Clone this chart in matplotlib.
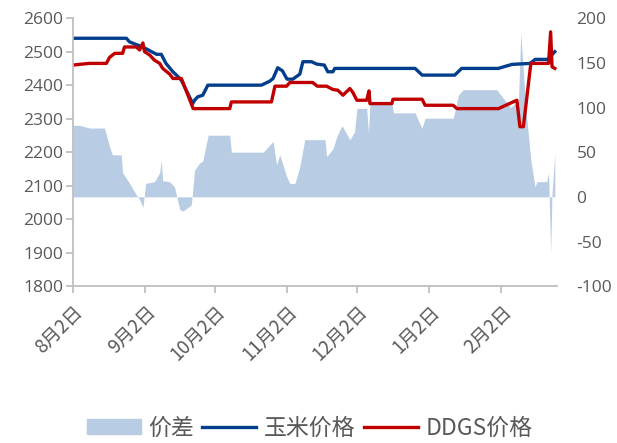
import numpy as np
import pandas as pd
import matplotlib
matplotlib.use('Agg')
import matplotlib.pyplot as plt
import matplotlib.dates as mdates
from matplotlib.ticker import FuncFormatter
from matplotlib.patches import Patch
from matplotlib.lines import Line2D

plt.rcParams['font.family'] = ['Noto Sans CJK SC', 'DejaVu Sans']
plt.rcParams['axes.unicode_minus'] = False

start = pd.Timestamp('2020-08-02')

# corn price (left axis): day offset from 8/2, value
corn_days = [0, 23, 24.4, 30, 36, 38, 40, 43, 44.5, 46.6, 51.5, 52.3, 53.6, 55.8, 58,
             81, 84.6, 86, 88, 90, 92, 94.5, 97.5, 98.8, 102.5, 104.7, 108, 109.5,
             111.7, 112.5, 147, 150, 164, 167, 182.7, 188.6, 196.4, 198.6, 204, 207]
corn_vals = [2540, 2540, 2529, 2514, 2492, 2492, 2465, 2440, 2430, 2415, 2345, 2355, 2365, 2370, 2400,
             2400, 2412, 2420, 2452, 2443, 2418, 2418, 2433, 2470, 2470, 2463, 2460, 2440,
             2440, 2450, 2450, 2430, 2430, 2450, 2450, 2462, 2465, 2477, 2477, 2500]

# DDGS price (left axis)
ddgs_days = [0, 7, 14.4, 15.8, 18, 21.4, 22.2, 27.3, 28.7, 30.1, 30.8, 33, 35, 37.3, 38.6,
             41.6, 43, 46.6, 47.2, 51.7, 67.4, 68.1, 85.3, 86.8, 91.8, 93.2, 103, 105,
             109, 111.7, 113.8, 116, 119, 120.3, 122, 126.2, 127.2, 127.6, 137, 137.5,
             150, 151.3, 163.3, 165, 182.8, 190.7, 192, 193.5, 196.7, 204.3, 205.2, 205.8, 207]
ddgs_vals = [2460, 2465, 2465, 2483, 2495, 2495, 2514, 2514, 2505, 2526, 2500, 2490, 2475, 2465, 2450,
             2433, 2420, 2420, 2410, 2330, 2330, 2350, 2350, 2397, 2397, 2408, 2408, 2397,
             2397, 2387, 2385, 2370, 2390, 2378, 2355, 2355, 2383, 2345, 2345, 2358,
             2358, 2340, 2340, 2330, 2330, 2355, 2276, 2276, 2465, 2465, 2559, 2455, 2450]

# spread (right axis)
spread_days = [0, 3, 7.2, 13.6, 15.8, 17, 20.8, 21.4, 24.4, 27.8, 28.7, 30.1, 31.3, 35.1,
               37.3, 38, 38.6, 41.6, 43.7, 45.9, 47.3, 50.9, 52.3, 54.5, 55.8, 58.1, 67.4,
               68.1, 81.7, 83.9, 86, 87.5, 88.9, 91.8, 93.2, 95.4, 97.5, 99.6, 108.3, 109,
               111.8, 113.3, 115.4, 116, 119, 121, 122, 126.2, 127, 127.6, 137, 137.7, 147,
               148.3, 149.9, 151.3, 163.4, 165.6, 167.7, 182, 188, 191.4, 192.4, 194.5,
               196.7, 198.5, 199.3, 203.5, 204.3, 205.2, 205.8, 206.5, 207]
spread_vals = [80, 80, 77, 77, 56, 47, 47, 27, 15, 0, -3, -12, 15, 17,
               27, 41, 18, 17, 11, -14, -16, -9, 30, 38, 40, 69, 69,
               50, 50, 56, 62, 36, 47, 23, 15, 15, 34, 64, 64, 45,
               54, 67, 79, 78, 64, 73, 99, 99, 71, 105, 105, 94, 94,
               86, 77, 88, 88, 114, 120, 120, 100, 108, 183, 100,
               41, 11, 17, 17, 27, -63, 4, 30, 49]

tick_dates = ['2020-08-02', '2020-09-02', '2020-10-02', '2020-11-02',
              '2020-12-02', '2021-01-02', '2021-02-02']

corn_x = start + pd.to_timedelta(corn_days, unit='D')
ddgs_x = start + pd.to_timedelta(ddgs_days, unit='D')
spread_x = start + pd.to_timedelta(spread_days, unit='D')

c_area = '#b8cce4'
c_corn = '#033e8c'
c_ddgs = '#c00000'
c_text = '#595959'
c_axis = '#bfbfbf'

fig = plt.figure(figsize=(6.17, 4.43), dpi=100)
ax1 = fig.add_axes([0.118, 0.354, 0.785, 0.605])
ax2 = ax1.twinx()

ax2.fill_between(spread_x, spread_vals, 0, color=c_area, lw=0)
ax1.plot(corn_x, corn_vals, color=c_corn, lw=2.4)
ax1.plot(ddgs_x, ddgs_vals, color=c_ddgs, lw=2.4)

ax1.set_zorder(ax2.get_zorder() + 1)
ax1.patch.set_visible(False)

ax1.set_ylim(1800, 2600)
ax1.set_yticks(np.arange(1800, 2601, 100))
ax2.set_ylim(-100, 200)
ax2.set_yticks(np.arange(-100, 201, 50))
ax1.set_xlim(start, start + pd.Timedelta(days=208))

ticks = pd.to_datetime(tick_dates)
ax1.set_xticks(ticks)
ax1.xaxis.set_major_formatter(FuncFormatter(
    lambda v, p: '%d月%d日' % (mdates.num2date(v).month, mdates.num2date(v).day)))

for ax in (ax1, ax2):
    for s in ('top', 'right'):
        ax.spines[s].set_visible(False)
ax2.spines['left'].set_visible(False)
ax2.spines['bottom'].set_visible(False)
ax1.spines['left'].set_color(c_axis)
ax1.spines['bottom'].set_color(c_axis)
ax1.spines['left'].set_linewidth(1.3)
ax1.spines['bottom'].set_linewidth(1.3)

ax1.tick_params(axis='y', colors=c_axis, labelcolor=c_text, labelsize=12.5, length=5, width=1.3, pad=2)
ax1.tick_params(axis='x', colors=c_axis, labelcolor=c_text, labelsize=13.5, length=5, width=1.3, pad=6)
ax2.tick_params(axis='y', length=0, labelcolor=c_text, labelsize=12.5, pad=14)
for lab in ax1.get_yticklabels() + ax2.get_yticklabels():
    lab.set_family('Open Sans')
for lab in ax1.get_xticklabels():
    lab.set_rotation(45)
    lab.set_ha('right')
    lab.set_rotation_mode('anchor')

handles = [Patch(color=c_area),
           Line2D([], [], color=c_corn, lw=2.4),
           Line2D([], [], color=c_ddgs, lw=2.4)]
fig.legend(handles, ['价差', '玉米价格', 'DDGS价格'], loc='center', bbox_to_anchor=(0.502, 0.034),
           ncol=3, frameon=False, fontsize=16.5, handlelength=2.35, handleheight=0.65,
           handletextpad=0.35, columnspacing=0.35, labelcolor=c_text)

fig.savefig('out.png', dpi=100)
